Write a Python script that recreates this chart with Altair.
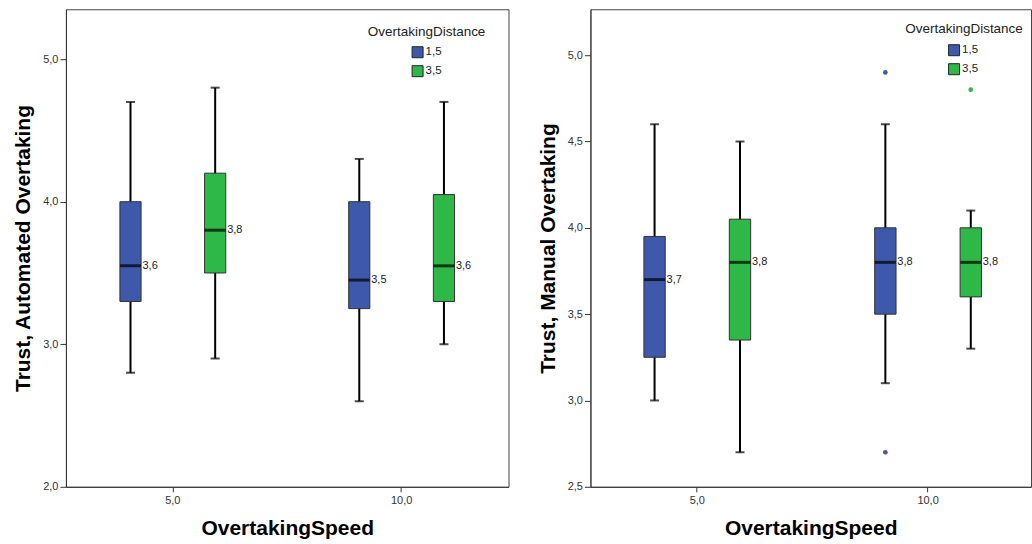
import altair as alt
import pandas as pd

# ---------------- data ----------------
speeds = ["5,0", "5,0", "10,0", "10,0"]
distances = ["1,5", "3,5", "1,5", "3,5"]

auto_low = [2.8, 2.9, 2.6, 3.0]
auto_q1 = [3.3, 3.5, 3.25, 3.3]
auto_med = [3.55, 3.8, 3.45, 3.55]
auto_q3 = [4.0, 4.2, 4.0, 4.05]
auto_high = [4.7, 4.8, 4.3, 4.7]
auto_label = ["3,6", "3,8", "3,5", "3,6"]

manual_low = [3.0, 2.7, 3.1, 3.3]
manual_q1 = [3.25, 3.35, 3.5, 3.6]
manual_med = [3.7, 3.8, 3.8, 3.8]
manual_q3 = [3.95, 4.05, 4.0, 4.0]
manual_high = [4.6, 4.5, 4.6, 4.1]
manual_label = ["3,7", "3,8", "3,8", "3,8"]

manual_out_speed = ["10,0", "10,0", "10,0"]
manual_out_dist = ["1,5", "1,5", "3,5"]
manual_out_value = [4.9, 2.7, 4.8]

speed_order = ["5,0", "10,0"]
dist_order = ["1,5", "3,5"]
colors = ["#3E58AC", "#2EB848"]

FONT = "Liberation Sans"


def make_panel(low, q1, med, q3, high, labels, out_s, out_d, out_v,
               ytitle, ydomain, yticks, width, height, xscale,
               legend_x, legend_y, ltitle_x, ltitle_y):
    df = pd.DataFrame({"speed": speeds, "dist": distances, "low": low, "q1": q1,
                       "med": med, "q3": q3, "high": high, "label": labels})
    x = alt.X("speed:N", sort=speed_order, scale=xscale,
              axis=alt.Axis(title="OvertakingSpeed", labelAngle=0, ticks=True,
                            tickSize=5, labelPadding=3, titlePadding=12))
    xo = alt.XOffset("dist:N", sort=dist_order,
                     scale=alt.Scale(paddingInner=0.75, paddingOuter=0.58))
    yscale = alt.Scale(domain=ydomain, nice=False, zero=False)
    yaxis = alt.Axis(title=ytitle, values=yticks, grid=False, tickSize=6,
                     labelPadding=2, titlePadding=9,
                     labelExpr="replace(format(datum.value, '.1f'), '.', ',')")
    cscale = alt.Scale(domain=dist_order, range=colors)

    base = alt.Chart(df)
    whisk = base.mark_rule(color="black", strokeWidth=2).encode(
        x=x, xOffset=xo, y=alt.Y("low:Q", scale=yscale, axis=yaxis), y2="high:Q")
    box = base.mark_bar(stroke="#333333", strokeWidth=1).encode(
        x=x, xOffset=xo, y=alt.Y("q1:Q", scale=yscale, axis=yaxis), y2="q3:Q",
        color=alt.Color("dist:N", scale=cscale, sort=dist_order,
                        legend=alt.Legend(title=None, orient="none",
                                          legendX=legend_x, legendY=legend_y,
                                          symbolType="square", symbolSize=121,
                                          symbolStrokeColor="#222222",
                                          symbolStrokeWidth=1,
                                          labelFont=FONT, labelFontSize=11.5,
                                          labelColor="#222222", labelOffset=2,
                                          rowPadding=3)))
    cap_lo = base.mark_tick(color="black", thickness=2, size=9).encode(
        x=x, xOffset=xo, y=alt.Y("low:Q", scale=yscale, axis=yaxis))
    cap_hi = base.mark_tick(color="black", thickness=2, size=9).encode(
        x=x, xOffset=xo, y=alt.Y("high:Q", scale=yscale, axis=yaxis))
    median = base.mark_tick(color="black", thickness=3, size=21).encode(
        x=x, xOffset=xo, y=alt.Y("med:Q", scale=yscale, axis=yaxis))
    text = base.mark_text(align="left", baseline="middle", dx=12, font=FONT,
                          fontSize=11, color="#222222").encode(
        x=x, xOffset=xo, y=alt.Y("med:Q", scale=yscale, axis=yaxis), text="label:N")
    layers = [whisk, box, cap_lo, cap_hi, median, text]
    if out_v:
        odf = pd.DataFrame({"speed": out_s, "dist": out_d, "v": out_v})
        outl = alt.Chart(odf).mark_circle(size=22, opacity=1).encode(
            x=x, xOffset=xo, y=alt.Y("v:Q", scale=yscale, axis=yaxis),
            color=alt.Color("dist:N", scale=cscale, sort=dist_order, legend=None))
        layers.append(outl)
    tdf = pd.DataFrame({"t": ["OvertakingDistance"]})
    ltitle = alt.Chart(tdf).mark_text(font=FONT, fontSize=13.5, color="#222222",
                                      align="center", baseline="middle").encode(
        x=alt.value(ltitle_x), y=alt.value(ltitle_y), text="t:N")
    layers.append(ltitle)
    return alt.layer(*layers).properties(width=width, height=height)


left = make_panel(auto_low, auto_q1, auto_med, auto_q3, auto_high, auto_label,
                  [], [], [],
                  "Trust, Automated Overtaking", [2.0, 5.35], [2.0, 3.0, 4.0, 5.0],
                  443, 478,
                  alt.Scale(paddingInner=0.108, paddingOuter=0.02125, align=0.5),
                  346, 37, 361, 23)
right = make_panel(manual_low, manual_q1, manual_med, manual_q3, manual_high,
                   manual_label, manual_out_speed, manual_out_dist, manual_out_value,
                   "Trust, Manual Overtaking", [2.5, 5.266],
                   [2.5, 3.0, 3.5, 4.0, 4.5, 5.0],
                   441, 478,
                   alt.Scale(paddingInner=0.108, paddingOuter=0.0085, align=1),
                   358, 35, 374, 20)

chart = alt.hconcat(left, right, spacing=27).resolve_scale(
    color="independent", y="independent", x="independent", xOffset="independent"
).resolve_legend(color="independent").properties(
    padding={"left": 12, "top": 8, "right": 0, "bottom": 0},
    background="white"
).configure_view(stroke="#444444", strokeWidth=1).configure_axis(
    domainColor="#333333", tickColor="#333333", labelColor="#333333",
    labelFont=FONT, labelFontSize=11, titleFont=FONT, titleFontSize=21,
    titleFontWeight="bold", titleColor="black", domainWidth=1
)

chart.save("out.html", embed_options={"renderer": "svg", "actions": False})
